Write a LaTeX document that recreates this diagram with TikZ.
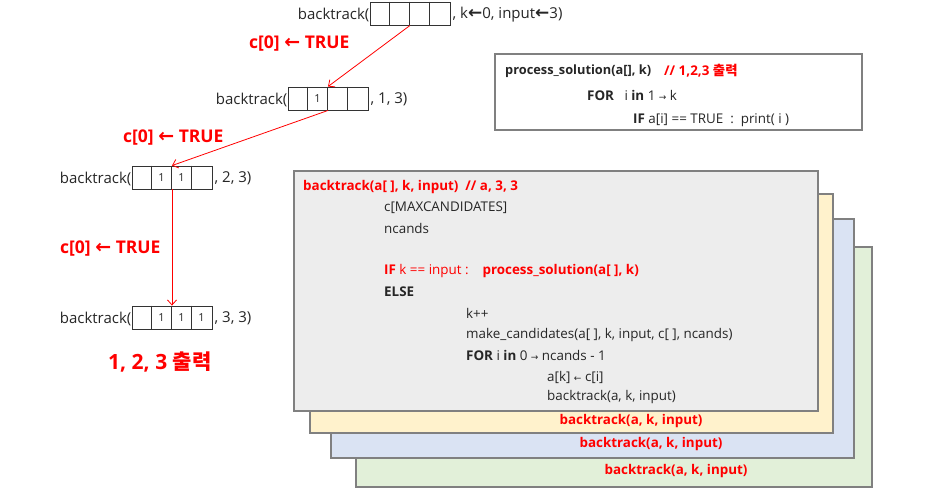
\documentclass[tikz,border=0pt]{standalone}
\usepackage{fontspec}
\setmainfont{Open Sans}
\newfontfamily\kr{Noto Sans CJK KR}
\newfontfamily\dv{DejaVu Sans}
\usetikzlibrary{arrows.meta,calc}
\definecolor{myred}{HTML}{FF0000}
\definecolor{bgray}{HTML}{808080}
\definecolor{fgray}{HTML}{EDEDED}
\definecolor{fyellow}{HTML}{FFF2CC}
\definecolor{fblue}{HTML}{DAE3F3}
\definecolor{fgreen}{HTML}{E2F0D9}
\definecolor{txtc}{HTML}{262626}
\begin{document}
\begin{tikzpicture}[x=1pt,y=-1pt,
  txt/.style={inner sep=0, text=txtc, font=\fontsize{15}{17}\selectfont},
  arr/.style={draw=black!80, line width=0.9pt, minimum width=80pt, minimum height=23pt, inner sep=0},
  digit/.style={inner sep=0, text=txtc, font=\fontsize{11}{12}\selectfont},
  code/.style={inner sep=0, anchor=west, text=txtc, font=\fontsize{13.4}{15}\selectfont},
  redc/.style={inner sep=0, anchor=west, text=myred, font=\bfseries\fontsize{13.4}{15}\selectfont},
  lbl/.style={inner sep=0, text=myred, font=\bfseries\fontsize{17.5}{19}\selectfont},
  link/.style={draw=myred, line width=0.8pt, -{Straight Barb[length=5pt,width=9pt]}},
  stackbox/.style={draw=bgray, line width=2pt, inner sep=0}]
\useasboundingbox (0,0) rectangle (944,498);

% ---- arrays ----
\node[arr] (r1) at (410,13.5) {};
\node[arr] (r2) at (328,98.5) {};
\node[arr] (r3) at (172,177.5) {};
\node[arr] (r4) at (172,317.5) {};
\foreach \r in {r1,r2,r3,r4}{
  \foreach \i in {1,2,3}{
    \draw[black!80, line width=0.9pt] ($(\r.north west)+(20*\i,0)$) -- ($(\r.south west)+(20*\i,0)$);
  }
}
\node[digit] (d21) at ($(r2.west)+(30,0)$) {1};
\node[digit] (d31) at ($(r3.west)+(30,0)$) {1};
\node[digit] (d32) at ($(r3.west)+(50,0)$) {1};
\node[digit] (d41) at ($(r4.west)+(30,0)$) {1};
\node[digit] (d42) at ($(r4.west)+(50,0)$) {1};
\node[digit] (d43) at ($(r4.west)+(70,0)$) {1};

\node[txt, anchor=east] (b1) at ($(r1.west)+(0,1)$) {backtrack(};
\node[txt, anchor=west] (e1) at ($(r1.east)+(2,1)$) {, k{\dv\bfseries\fontsize{17}{17}\selectfont ←}0, input{\dv\bfseries\fontsize{17}{17}\selectfont ←}3)};
\node[txt, anchor=east] (b2) at ($(r2.west)+(0,1)$) {backtrack(};
\node[txt, anchor=west] (e2) at ($(r2.east)+(2,1)$) {, 1, 3)};
\node[txt, anchor=east] (b3) at ($(r3.west)+(0,1)$) {backtrack(};
\node[txt, anchor=west] (e3) at ($(r3.east)+(2,1)$) {, 2, 3)};
\node[txt, anchor=east] (b4) at ($(r4.west)+(0,1)$) {backtrack(};
\node[txt, anchor=west] (e4) at ($(r4.east)+(2,1)$) {, 3, 3)};

% ---- links ----
\draw[link] (r1.south) -- (r2.north);
\draw[link] (r2.south) -- (r3.north);
\draw[link] (r3.south) -- (r4.north);

\node[lbl, anchor=west] (l1) at (249,44) {c[0] {\dv\bfseries\fontsize{19}{19}\selectfont ←} TRUE};
\node[lbl, anchor=west] (l2) at (123,138) {c[0] {\dv\bfseries\fontsize{19}{19}\selectfont ←} TRUE};
\node[lbl, anchor=west] (l3) at (60,249) {c[0] {\dv\bfseries\fontsize{19}{19}\selectfont ←} TRUE};
\node[inner sep=0, anchor=west, text=myred, font=\bfseries\fontsize{21}{23}\selectfont] (res) at (108,362) {1,\ 2,\ 3\ {\kr\bfseries 출력}};

% ---- process_solution box ----
\node[stackbox, fill=white, minimum width=367pt, minimum height=76pt] (ps) at (678.5,92) {};
\node[code, font=\bfseries\fontsize{12.8}{15}\selectfont] (p1) at (505,71) {process\_solution(a[], k)};
\node[redc] (p1c) at (664,71) {// 1,2,3 {\kr\bfseries 출력}};
\node[code] (p2) at (587,95) {\textbf{FOR}\ \ \ i \textbf{in} 1 {\dv\fontsize{9}{10}\selectfont →} k};
\node[code] (p3) at (633,120) {\textbf{IF} a[i] == TRUE\ \ :\ \ print( i )};

% ---- stacked boxes ----
\node[stackbox, fill=fgreen, minimum width=516pt, minimum height=240pt] (sg) at (614,367) {};
\node[stackbox, fill=fblue, minimum width=523pt, minimum height=239pt] (sb) at (592.5,338.5) {};
\node[stackbox, fill=fyellow, minimum width=523pt, minimum height=239pt] (sy) at (571.5,313.5) {};
\node[stackbox, fill=fgray, minimum width=524pt, minimum height=240pt] (sm) at (556,291) {};

\node[redc, anchor=center] (ty) at (631,421) {backtrack(a, k, input)};
\node[redc, anchor=center] (tb) at (651,444) {backtrack(a, k, input)};
\node[redc, anchor=center] (tg) at (676,471) {backtrack(a, k, input)};

% ---- main code ----
\node[redc] (m1) at (303,187) {backtrack(a[ ], k, input)\ \ // a, 3, 3};
\node[code] (m2) at (384,208) {c[MAXCANDIDATES]};
\node[code] (m3) at (384,228) {ncands};
\node[code, text=myred] (m4) at (384,271) {\textbf{IF} k == input :\ \ \ \ \textbf{process\_solution(a[ ], k)}};
\node[code, font=\bfseries\fontsize{13.4}{15}\selectfont] (m5) at (384,292) {ELSE};
\node[code] (m6) at (466,313) {k++};
\node[code] (m7) at (466,335) {make\_candidates(a[\ ], k,\ input,\ c[\ ],\ ncands)};
\node[code] (m8) at (466,355) {\textbf{FOR} i \textbf{in} 0 {\dv\fontsize{9}{10}\selectfont →} ncands - 1};
\node[code] (m9) at (547,377) {a[k] {\dv\fontsize{9}{10}\selectfont ←} c[i]};
\node[code] (m10) at (547,397) {backtrack(a, k, input)};
\end{tikzpicture}
\end{document}
